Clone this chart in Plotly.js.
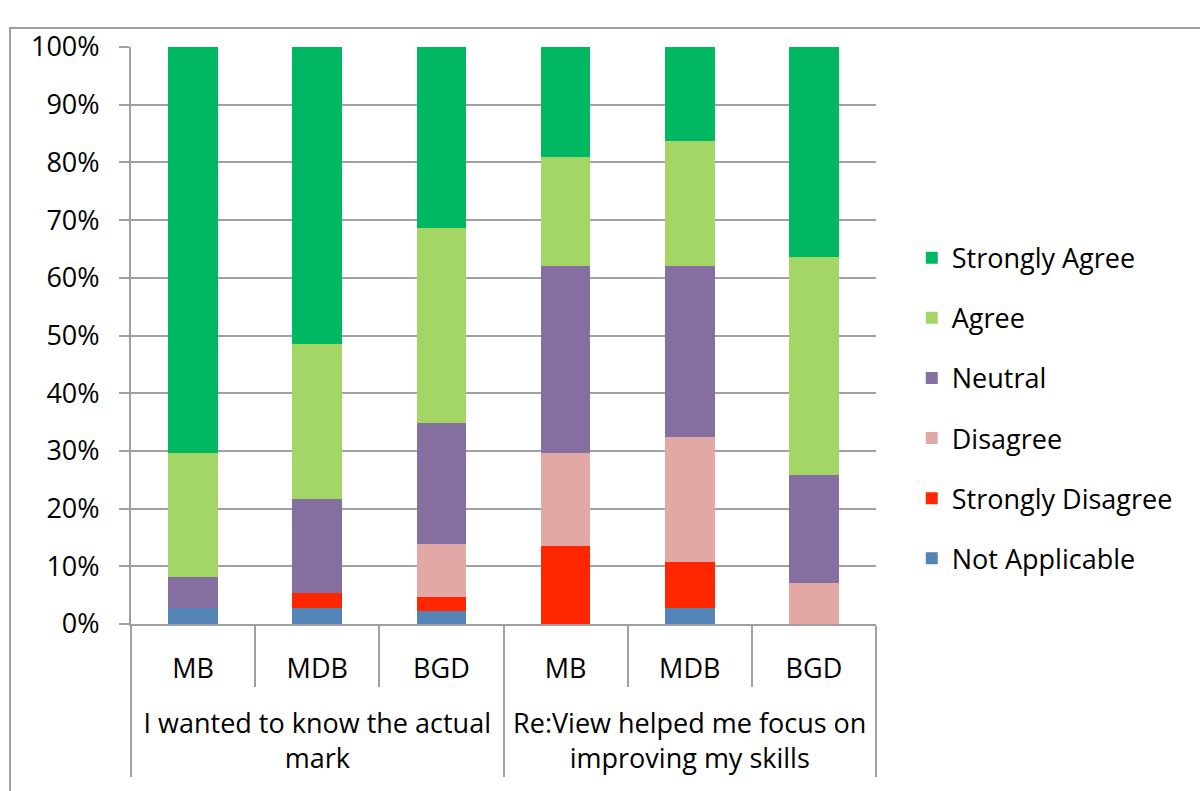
<!DOCTYPE html>
<html>
<head>
<meta charset="utf-8">
<script src="https://cdn.plot.ly/plotly-3.0.1.min.js"></script>
<style>
  html, body { margin: 0; padding: 0; background: #ffffff; }
  #chart { width: 1200px; height: 791px; }
</style>
</head>
<body>
<div id="chart"></div>
<script>
// Category levels (leading line break drops the group row below the sub labels)
const groupLabels = [
  "<br>I wanted to know the actual<br>mark",
  "<br>I wanted to know the actual<br>mark",
  "<br>I wanted to know the actual<br>mark",
  "<br>Re:View helped me focus on<br>improving my skills",
  "<br>Re:View helped me focus on<br>improving my skills",
  "<br>Re:View helped me focus on<br>improving my skills"
];
const subLabels = ["MB", "MDB", "BGD", "MB", "MDB", "BGD"];

// Series values (percent of respondents)
const notApplicable    = [2.7, 2.7, 2.3, 0.0, 2.7, 0.0];
const stronglyDisagree = [0.0, 2.7, 2.4, 13.5, 8.1, 0.0];
const disagree         = [0.0, 0.0, 9.2, 16.2, 21.6, 7.1];
const neutral          = [5.4, 16.2, 21.0, 32.4, 29.7, 18.8];
const agree            = [21.6, 27.0, 33.7, 18.9, 21.6, 37.7];
const stronglyAgree    = [70.3, 51.4, 31.4, 19.0, 16.3, 36.4];

const seriesNames  = ["Not Applicable", "Strongly Disagree", "Disagree", "Neutral", "Agree", "Strongly Agree"];
const seriesValues = [notApplicable, stronglyDisagree, disagree, neutral, agree, stronglyAgree];
const seriesColors = ["#5483b7", "#ff2600", "#e1a8a6", "#856ea0", "#a3d664", "#00b862"];

const FONT = "Open Sans, Noto Sans, sans-serif";
const FS = 27;

const traces = seriesNames.map((name, i) => ({
  type: "bar",
  name: name,
  x: [groupLabels, subLabels],
  y: seriesValues[i],
  legendgroup: "g" + i,
  legendrank: seriesNames.length - i,
  marker: { color: seriesColors[i], line: { width: 0 } },
  hovertemplate: name + ": %{y}%<extra></extra>"
}));

const layout = {
  width: 1200,
  height: 791,
  paper_bgcolor: "#ffffff",
  plot_bgcolor: "#ffffff",
  font: { family: FONT, size: FS, color: "#000000" },
  margin: { l: 131, r: 324, t: 47, b: 167 },
  barmode: "stack",
  bargap: 0.6,
  showlegend: true,
  legend: {
    x: 1.048, xanchor: "left",
    y: 0.374, yanchor: "middle",
    traceorder: "grouped",
    tracegroupgap: 22,
    font: { family: FONT, size: FS, color: "#000000" },
    bgcolor: "rgba(0,0,0,0)"
  },
  xaxis: {
    type: "multicategory",
    showline: true,
    linecolor: "#a0a0a0",
    linewidth: 2,
    ticks: "outside",
    tickson: "boundaries",
    ticklen: 61,
    tickcolor: "#a0a0a0",
    tickwidth: 2,
    ticklabelstandoff: 20,
    showdividers: true,
    dividercolor: "#a0a0a0",
    dividerwidth: 2,
    showgrid: false,
    tickfont: { family: FONT, size: FS, color: "#000000" }
  },
  yaxis: {
    range: [0, 100],
    dtick: 10,
    ticksuffix: "%",
    showline: true,
    linecolor: "#a0a0a0",
    linewidth: 2,
    ticks: "outside",
    ticklen: 10,
    tickcolor: "#a0a0a0",
    tickwidth: 2,
    ticklabelstandoff: 14,
    showgrid: true,
    gridcolor: "#a0a0a0",
    gridwidth: 2,
    zeroline: false,
    tickfont: { family: FONT, size: FS, color: "#000000" }
  },
  shapes: [
    {
      type: "rect", xref: "paper", yref: "paper",
      x0: -0.1624, x1: 1.45, y0: -0.35, y1: 1.0329,
      line: { color: "#a0a0a0", width: 2 },
      fillcolor: "rgba(0,0,0,0)",
      layer: "below"
    }
  ]
};

Plotly.newPlot("chart", traces, layout, { displayModeBar: false, staticPlot: true });
</script>
</body>
</html>
